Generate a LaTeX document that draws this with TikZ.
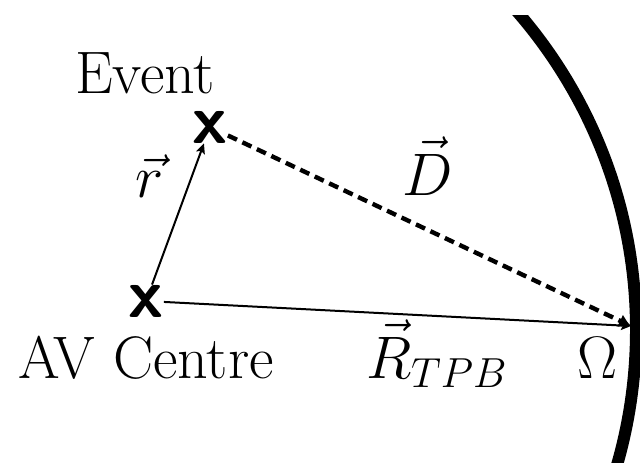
\RequirePackage{fix-cm}
\documentclass[tikz,border=0pt]{standalone}
\usetikzlibrary{arrows.meta}
\begin{document}
\begin{tikzpicture}[x=0.5pt,y=-0.5pt,
  lbl/.style={font=\fontsize{30}{36}\selectfont, inner sep=0pt, anchor=base},
  xmark/.style={font=\fontsize{35}{42}\selectfont\sffamily\bfseries, inner sep=0pt},
  thinarrow/.style={line width=1pt, -{Stealth[length=5pt,width=4.5pt,inset=1pt]}},
  dasharrow/.style={line width=2.2pt, dash pattern=on 5pt off 3pt, -{Latex[length=6pt,width=7pt]}},
  wall/.style={line width=6pt}]
\useasboundingbox (0,0) rectangle (640,462);
\begin{scope}
  \clip (0,15) rectangle (640,462);
  \draw[wall] (150,330) circle[radius=486];
\end{scope}
\node[xmark] (av) at (146,301) {x};
\node[xmark] (ev) at (210,127) {x};
\coordinate (O) at (631,326);
\node[lbl] (evlbl) at (145,93) {Event};
\node[lbl] (avlbl) at (146,378) {AV Centre};
\node[lbl] (rlbl) at (150,197) {$\vec{r}$};
\node[lbl] (dlbl) at (428,195) {$\vec{D}$};
\node[lbl] (Rlbl) at (437,378) {$\vec{R}_{TPB}$};
\node[lbl] (Olbl) at (598,378) {$\Omega$};
\draw[thinarrow] (av) -- (ev);
\draw[thinarrow] (av) -- (O);
\draw[dasharrow] (ev) -- (O);
\end{tikzpicture}
\end{document}
